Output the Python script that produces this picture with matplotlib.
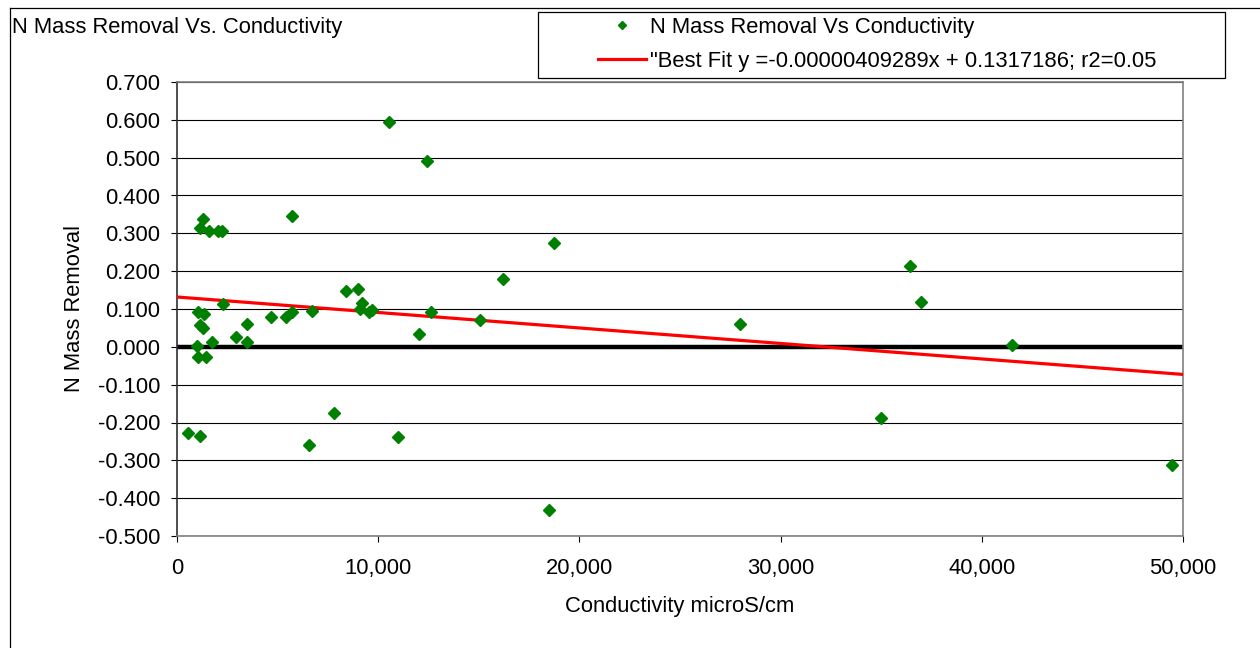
import numpy as np
import matplotlib
matplotlib.use("Agg")
import matplotlib.pyplot as plt
from matplotlib.lines import Line2D
from matplotlib.patches import Rectangle
from matplotlib.ticker import FuncFormatter, MultipleLocator

plt.rcParams['font.family'] = ['Liberation Sans', 'DejaVu Sans']
plt.rcParams['axes.unicode_minus'] = False

conductivity = [560, 1140, 980, 1040, 1420, 1310, 1140, 1590, 2050, 2220,
                2270, 1060, 1340, 1140, 1310, 1750, 2930, 3460, 3460, 4660,
                5400, 5700, 5700, 6710, 6540, 7820, 8410, 9010, 9190, 9090,
                9560, 9710, 10550, 10990, 12030, 12440, 12600, 15070, 16190, 18750,
                18500, 27980, 35000, 36450, 36960, 41480, 49440]
n_mass_removal = [-0.228, -0.237, 0.002, -0.026, -0.026, 0.337, 0.315, 0.305, 0.306, 0.305,
                  0.114, 0.091, 0.086, 0.058, 0.049, 0.013, 0.027, 0.061, 0.013, 0.079,
                  0.078, 0.091, 0.346, 0.096, -0.260, -0.176, 0.148, 0.153, 0.115, 0.099,
                  0.091, 0.097, 0.595, -0.238, 0.034, 0.490, 0.092, 0.070, 0.178, 0.275,
                  -0.431, 0.060, -0.189, 0.214, 0.118, 0.005, -0.312]
fit_slope = -0.00000409289
fit_intercept = 0.1317186
x_range = [0, 50000]
y_range = [-0.5, 0.7]

title = "N Mass Removal Vs. Conductivity"
series_label = "N Mass Removal Vs Conductivity"
fit_label = '"Best Fit y =-0.00000409289x + 0.1317186; r2=0.05'
x_label = "Conductivity microS/cm"
y_label = "N Mass Removal"

W, H = 1260, 648
fig = plt.figure(figsize=(W / 100, H / 100), dpi=100)
FS = 15.8

ax = fig.add_axes([177 / W, 1 - 536 / H, (1183 - 177) / W, (536 - 82) / H])
ax.set_xlim(*x_range)
ax.set_ylim(*y_range)

ax.yaxis.set_major_locator(MultipleLocator(0.1))
ax.xaxis.set_major_locator(MultipleLocator(10000))
ax.yaxis.set_major_formatter(FuncFormatter(lambda v, p: f"{v:.3f}"))
ax.xaxis.set_major_formatter(FuncFormatter(lambda v, p: f"{v:,.0f}"))
ax.tick_params(axis='both', direction='out', length=4.3, width=0.8, labelsize=FS, pad=8, color='black')
ax.tick_params(axis='x', pad=11.5)

ax.grid(axis='y', color='black', linewidth=0.8, zorder=0)
ax.set_axisbelow(True)
ax.axhline(0, color='black', linewidth=3.2, zorder=2)

for s in ['top', 'right', 'bottom']:
    ax.spines[s].set_color('#808080')
    ax.spines[s].set_linewidth(1.2)
ax.spines['left'].set_color('#303030')
ax.spines['left'].set_linewidth(1.2)

xs = np.linspace(x_range[0], x_range[1], 200)
fit_line, = ax.plot(xs, fit_slope * xs + fit_intercept, color='#ff0000', linewidth=2.3, zorder=3)
pts, = ax.plot(conductivity, n_mass_removal, linestyle='none', marker='D', markersize=6.2,
               color='#008000', markeredgecolor='#008000', zorder=4)

ax.set_xlabel(x_label, fontsize=FS)
ax.set_ylabel(y_label, fontsize=FS)
ax.xaxis.set_label_coords(0.5, -(596 - 536) / (536 - 82))
ax.yaxis.set_label_coords(-(177 - 85) / (1183 - 177), 0.5)

fig.text(12 / W, 1 - 27 / H, title, fontsize=FS, ha='left', va='center')

# figure frame (left and top)
fig.add_artist(Line2D([10 / W, 10 / W], [0, 1 - 8 / H], transform=fig.transFigure, color='black', linewidth=0.9))
fig.add_artist(Line2D([10 / W, 1], [1 - 8 / H, 1 - 8 / H], transform=fig.transFigure, color='black', linewidth=0.9))

# legend box
fig.add_artist(Rectangle((538 / W, 1 - 78 / H), (1225 - 538) / W, (78 - 12) / H,
                         transform=fig.transFigure, facecolor='white', edgecolor='black', linewidth=0.9))
h_pts = Line2D([], [], linestyle='none', marker='D', markersize=4, color='#008000')
h_fit = Line2D([], [], color='#ff0000', linewidth=2.3)
fig.legend([h_pts, h_fit], [series_label, fit_label], loc='upper left',
           bbox_to_anchor=(591 / W, 1 - 10 / H), frameon=False, fontsize=FS,
           handlelength=2.2, handletextpad=0.2, labelspacing=0.6, borderpad=0.3,
           borderaxespad=0)

fig.savefig("out.png", dpi=100)
